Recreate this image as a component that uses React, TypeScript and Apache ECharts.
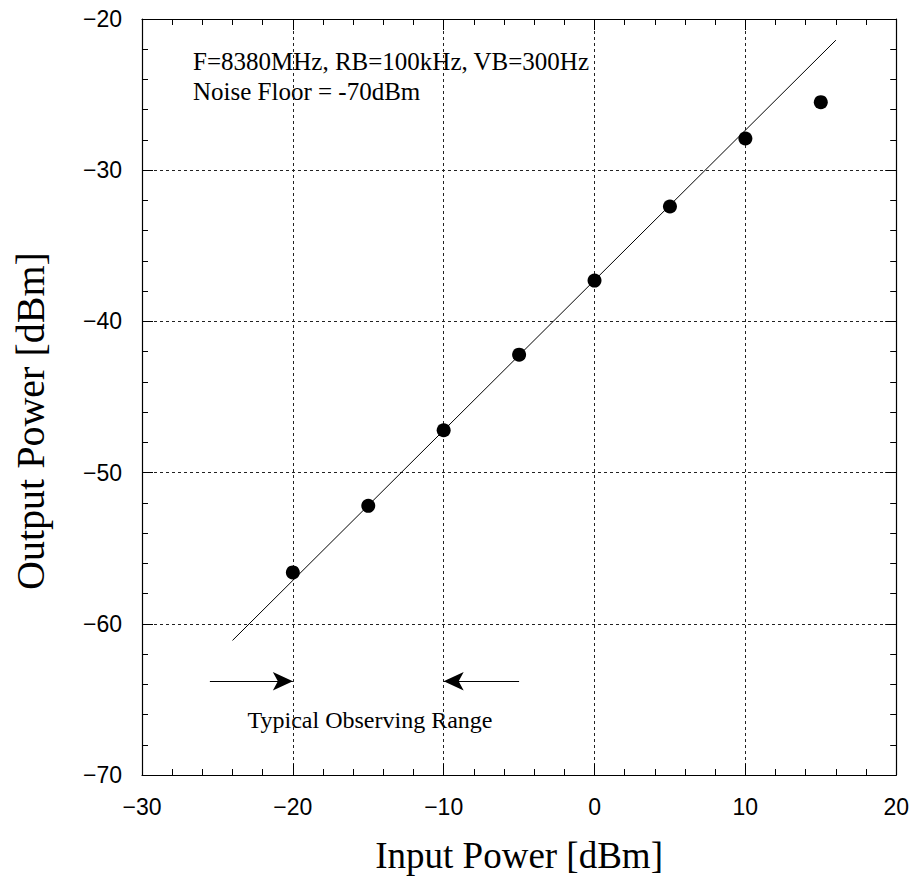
import React, { useEffect, useRef } from "react";
import * as echarts from "echarts";

const inputPower = [-20, -15, -10, -5, 0, 5, 10, 15];
const outputPower = [-56.6, -52.2, -47.2, -42.2, -37.3, -32.4, -27.9, -25.5];
const fitX = [-24, 16];
const fitY = [-61.1, -21.4];
const arrowY = -63.8;
const arrowLeft = [-25.5, -20];
const arrowRight = [-5, -10];
const xRange = [-30, 20];
const yRange = [-70, -20];
const annotationLines = ["F=8380MHz, RB=100kHz, VB=300Hz", "Noise Floor = -70dBm"];
const rangeLabel = "Typical Observing Range";
const xTitle = "Input Power [dBm]";
const yTitle = "Output Power [dBm]";

const fmt = (v: number) => (v < 0 ? "\u2212" + Math.abs(v) : String(v));

export default function App() {
  const ref = useRef<HTMLDivElement>(null);
  useEffect(() => {
    document.body.style.margin = "0";
    const chart = echarts.init(ref.current!, null, { renderer: "svg" });
    const serif = "'Liberation Serif', 'Times New Roman', serif";
    const sans = "'Liberation Sans', Arial, sans-serif";
    const baseAxis = (pos: string, labels: boolean, grid: boolean) => ({
      type: "value",
      position: pos,
      interval: 10,
      axisLine: { show: true, onZero: false, lineStyle: { color: "#000", width: 1.2 } },
      axisTick: { show: true, inside: true, length: 11, lineStyle: { color: "#000", width: 1 } },
      minorTick: { show: true, splitNumber: 5, length: 6, lineStyle: { color: "#000", width: 1 } },
      axisLabel: labels
        ? { show: true, formatter: fmt, color: "#000", fontSize: 23, fontFamily: sans, margin: 20 }
        : { show: false },
      splitLine: grid
        ? { show: true, lineStyle: { color: "#222", width: 1, type: [3, 3] } }
        : { show: false },
    });
    const xBottom: any = { ...baseAxis("bottom", true, true), min: xRange[0], max: xRange[1] };
    xBottom.name = xTitle;
    xBottom.nameLocation = "middle";
    xBottom.nameGap = 62;
    xBottom.nameTextStyle = { fontFamily: serif, fontSize: 37, color: "#000" };
    const xTop: any = { ...baseAxis("top", false, false), min: xRange[0], max: xRange[1] };
    const yLeft: any = { ...baseAxis("left", true, true), min: yRange[0], max: yRange[1] };
    const yRight: any = { ...baseAxis("right", false, false), min: yRange[0], max: yRange[1] };

    const fitData = fitX.map((x, i) => [x, fitY[i]]);
    const pts = inputPower.map((x, i) => [x, outputPower[i]]);
    const arrow = (from: number[]) => [
      { coord: [from[0], arrowY], symbol: "none" },
      { coord: [from[1], arrowY], symbol: "arrow", symbolSize: [14, 20] },
    ];

    chart.setOption({
      animation: false,
      backgroundColor: "#fff",
      grid: { left: 142, top: 19, right: 15, bottom: 106 },
      xAxis: [xBottom, xTop],
      yAxis: [yLeft, yRight],
      series: [
        {
          type: "line",
          data: fitData,
          showSymbol: false,
          symbol: "none",
          silent: true,
          lineStyle: { color: "#000", width: 1 },
          markLine: {
            silent: true,
            symbol: ["none", "arrow"],
            symbolSize: 18,
            label: { show: false },
            lineStyle: { color: "#000", width: 1, type: "solid" },
            itemStyle: { color: "#000" },
            emphasis: { disabled: true },
            data: [arrow(arrowLeft), arrow(arrowRight)],
          },
        },
        {
          type: "scatter",
          data: pts,
          symbol: "circle",
          symbolSize: 14,
          itemStyle: { color: "#000", opacity: 1 },
          silent: true,
        },
      ],
      graphic: [
        {
          type: "text",
          x: 30,
          y: 421,
          rotation: Math.PI / 2,
          style: { text: yTitle, font: `40px ${serif}`, fill: "#000", align: "center", verticalAlign: "middle" },
        },
        {
          type: "text",
          x: 193,
          y: 61.5,
          style: { text: annotationLines[0], font: `25px ${serif}`, fill: "#000", align: "left", verticalAlign: "middle" },
        },
        {
          type: "text",
          x: 193,
          y: 91.5,
          style: { text: annotationLines[1], font: `25px ${serif}`, fill: "#000", align: "left", verticalAlign: "middle" },
        },
        {
          type: "text",
          x: 370,
          y: 720,
          style: { text: rangeLabel, font: `24px ${serif}`, fill: "#000", align: "center", verticalAlign: "middle" },
        },
      ],
    });
    return () => chart.dispose();
  }, []);
  return <div ref={ref} style={{ width: 912, height: 881, position: "absolute", left: 0, top: 0 }} />;
}
